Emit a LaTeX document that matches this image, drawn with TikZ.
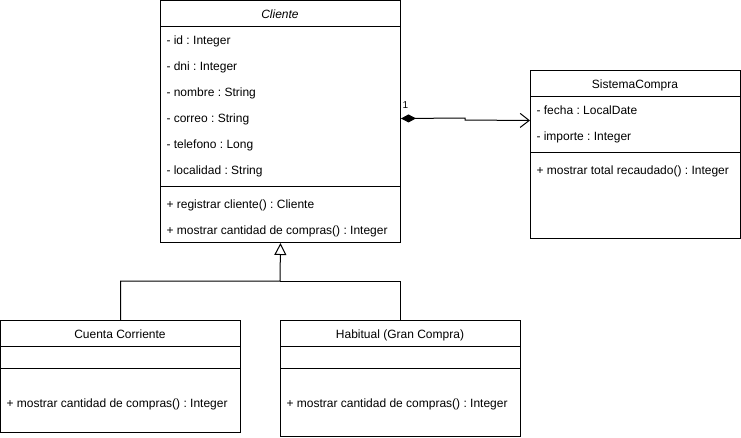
\documentclass[tikz,border=0pt]{standalone}
\usepackage{fontspec}
\setmainfont{Liberation Sans}
\usetikzlibrary{arrows.meta,positioning}
\frenchspacing

\begin{document}
\begin{tikzpicture}[x=1pt, y=-1pt, line width=1pt,
        classbox/.style={draw, rectangle, inner sep=0pt, anchor=north west},
        member/.style={anchor=base west, inner sep=0pt, font=\fontsize{12}{14}\selectfont},
        classname/.style={anchor=base, inner sep=0pt, font=\fontsize{12}{14}\selectfont}]
            \useasboundingbox (0, 0) rectangle (741, 437);
            % Cliente
            \node[classbox, minimum width=240pt, minimum height=242pt] (cliente) at (160, 0) {};
            \draw (160, 26) -- (400, 26);
            \draw (160, 186) -- (400, 186);
            \node[classname, font=\fontsize{12}{14}\selectfont\itshape] (clientename) at (280, 18) {Cliente};
            \node[member] (id) at (166, 44) {- id : Integer};
            \node[member] (dni) at (166, 70) {- dni : Integer};
            \node[member] (nombre) at (166, 96) {- nombre : String};
            \node[member] (correo) at (166, 122) {- correo : String};
            \node[member] (telefono) at (166, 148) {- telefono : Long};
            \node[member] (localidad) at (166, 174) {- localidad : String};
            \node[member] (registrar) at (166, 208) {+ registrar cliente() : Cliente};
            \node[member] (cantidad) at (166, 234) {+ mostrar cantidad de compras() : Integer};
            % SistemaCompra
            \node[classbox, minimum width=210pt, minimum height=168pt] (sistema) at (530, 70) {};
            \draw (530, 96) -- (740, 96);
            \draw (530, 152) -- (740, 152);
            \node[classname] (sistemaname) at (635, 88.5) {SistemaCompra};
            \node[member] (fecha) at (536, 114) {- fecha : LocalDate};
            \node[member] (importe) at (536, 140) {- importe : Integer};
            \node[member] (recaudado) at (536, 174) {+ mostrar total recaudado() : Integer};
            % Cuenta Corriente
            \node[classbox, minimum width=240pt, minimum height=112pt] (cuenta) at (0, 320) {};
            \draw (0, 346) -- (240, 346);
            \draw (0, 368) -- (240, 368);
            \node[classname] (cuentaname) at (120, 338.5) {Cuenta Corriente};
            \node[member] (cuentacantidad) at (6, 407) {+ mostrar cantidad de compras() : Integer};
            % Habitual
            \node[classbox, minimum width=240pt, minimum height=116pt] (habitual) at (280, 320) {};
            \draw (280, 346) -- (520, 346);
            \draw (280, 368) -- (520, 368);
            \node[classname] (habitualname) at (400, 338.5) {Habitual (Gran Compra)};
            \node[member] (habitualcantidad) at (286, 407) {+ mostrar cantidad de compras() : Integer};
            % herencia
            \coordinate (split) at (280, 281);
            \draw[-{Triangle[open, length=12pt, width=12pt]}] (cuenta.north) |- (split) -- (cliente.south);
            \draw (habitual.north) |- (split);
            % composicion
            \coordinate (step) at (465, 118);
            \draw[{Diamond[length=15pt, width=8pt]}-{Straight Barb[length=9pt, width=14pt]}]
                ([yshift=3pt]cliente.east) -- (step) -- ++(0, 2) -- ([yshift=34pt]sistema.west);
            \node[anchor=west, inner sep=0pt, font=\fontsize{10}{12}\selectfont] (mult) at (402, 105) {1};
        \end{tikzpicture}
\end{document}
